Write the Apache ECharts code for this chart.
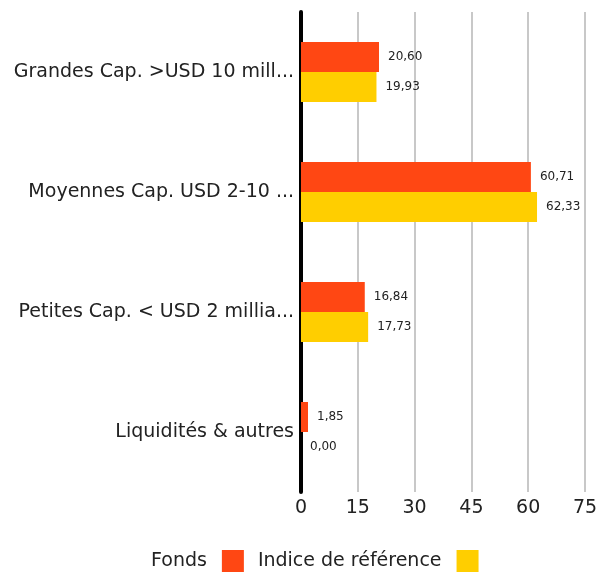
<!DOCTYPE html>
<html>
<head>
<meta charset="utf-8">
<script src="https://cdn.jsdelivr.net/npm/echarts@6/dist/echarts.min.js"></script>
<style>
  html, body { margin: 0; padding: 0; background: #fff; }
  #chart { width: 608px; height: 572px; }
</style>
</head>
<body>
<div id="chart"></div>
<script>
// categories (top to bottom)
const categories = [
  'Grandes Cap. >USD 10 milliards',
  'Moyennes Cap. USD 2-10 milliards',
  'Petites Cap. < USD 2 milliards',
  'Liquidités & autres'
]
const fondsValues = [20.60, 60.71, 16.84, 1.85]
const indiceValues = [19.93, 62.33, 17.73, 0.00]
const xTicks = [0, 15, 30, 45, 60, 75]

const fontFamily = '"DejaVu Sans", sans-serif'

const chart = echarts.init(document.getElementById('chart'))

const labelOpt = {
  show: true,
  position: 'right',
  distance: 9,
  color: '#222',
  fontSize: 12,
  fontFamily: fontFamily,
  formatter: function (p) {
    return p.value.toFixed(2).replace('.', ',')
  },
}

chart.setOption({
  animation: false,
  grid: {
    left: 301,
    right: 23,
    top: 12,
    bottom: 80,
  },
  legend: {
    bottom: 0,
    left: 151,
    align: 'right',
    padding: 0,
    itemWidth: 22,
    itemHeight: 22,
    itemGap: 14,
    icon: 'rect',
    textStyle: {
      fontSize: 19,
      color: '#222',
      fontFamily: fontFamily,
      padding: [0, 10, 0, 0],
    },
    data: ['Fonds', 'Indice de référence'],
  },
  xAxis: {
    type: 'value',
    min: xTicks[0],
    max: xTicks[xTicks.length - 1],
    interval: 15,
    axisLine: { show: false },
    axisTick: { show: false },
    splitLine: { lineStyle: { color: '#c8c8c8', width: 2 } },
    axisLabel: { fontSize: 19, color: '#222', margin: 7, fontFamily: fontFamily },
  },
  yAxis: {
    type: 'category',
    inverse: true,
    data: categories,
    axisLine: { show: true, lineStyle: { color: '#000', width: 4 } },
    axisTick: { show: false },
    axisLabel: {
      fontSize: 19,
      color: '#222',
      margin: 7,
      fontFamily: fontFamily,
      width: 282,
      overflow: 'truncate',
      ellipsis: '...',
    },
  },
  series: [
    {
      name: 'Fonds',
      type: 'bar',
      data: fondsValues,
      barWidth: 30,
      barGap: '0%',
      itemStyle: { color: '#FF4713' },
      label: labelOpt,
    },
    {
      name: 'Indice de référence',
      type: 'bar',
      data: indiceValues,
      barWidth: 30,
      barGap: '0%',
      itemStyle: { color: '#FFCE00' },
      label: labelOpt,
    },
  ],
})
</script>
</body>
</html>
